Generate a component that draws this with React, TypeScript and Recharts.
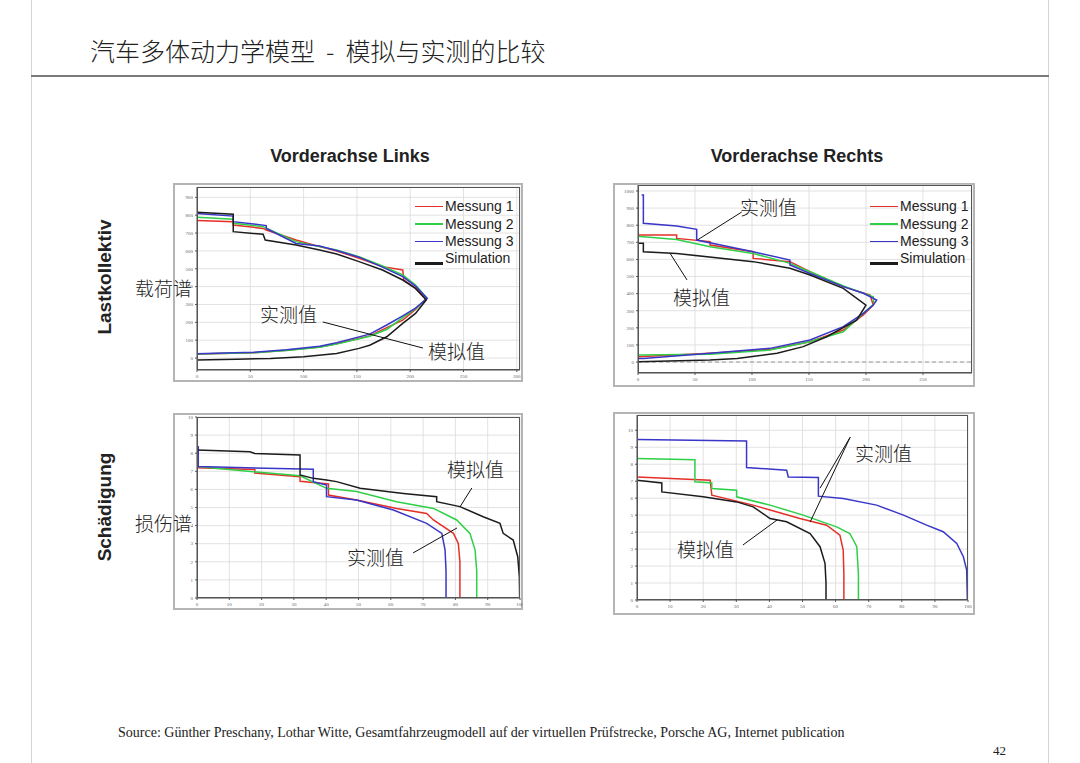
import { LineChart, Line, XAxis, YAxis, CartesianGrid, ReferenceLine } from 'recharts';

type Pt = [number, number];

const seriesNames = ['Messung 1', 'Messung 2', 'Messung 3', 'Simulation'];
const seriesColors = ['#e5302a', '#2fcf48', '#3a36c8', '#1c1c1c'];

// Lastkollektiv, Vorderachse Links (x: Häufigkeit, y: Niveau)
const tlM1: Pt[] = [[0, 770], [34, 763], [34, 745], [62, 726], [65, 717], [93, 661], [115, 624], [131, 600], [152, 559], [174, 512], [193, 493], [194, 437], [205, 390], [215, 334], [205, 272], [193, 212], [178, 170], [162, 124], [131, 80], [115, 62], [84, 43], [53, 30], [0, 22]];
const tlM2: Pt[] = [[0, 789], [34, 778], [34, 755], [62, 736], [93, 652], [115, 624], [131, 605], [152, 568], [174, 516], [193, 465], [205, 409], [216, 334], [205, 276], [193, 226], [178, 160], [162, 122], [131, 78], [115, 60], [84, 42], [53, 30], [0, 22]];
const tlM3: Pt[] = [[0, 810], [34, 795], [34, 764], [65, 742], [65, 726], [93, 642], [115, 628], [131, 602], [152, 565], [174, 509], [193, 456], [205, 403], [216, 334], [205, 280], [193, 236], [178, 185], [162, 134], [131, 86], [115, 66], [84, 46], [53, 32], [0, 24]];
const tlSim: Pt[] = [[0, 816], [34, 805], [34, 708], [62, 693], [64, 661], [93, 633], [115, 605], [131, 583], [152, 540], [174, 493], [193, 437], [205, 390], [215, 325], [205, 250], [193, 194], [178, 119], [162, 72], [152, 54], [131, 26], [100, 7], [69, -2], [37, -7], [0, -11]];

// Lastkollektiv, Vorderachse Rechts
const trM1: Pt[] = [[0, 743], [33.9, 743], [33.9, 723], [63.2, 704], [63.2, 684], [101, 645], [101, 606], [133.3, 587], [150.9, 528], [180.1, 441], [203.5, 392], [206.4, 333], [197.7, 275], [180.1, 187], [150.9, 119], [115.8, 74], [63.2, 51], [0, 31]];
const trM2: Pt[] = [[0, 735], [4.7, 733], [33.9, 717], [63.2, 674], [101, 635], [133.3, 577], [150.9, 528], [180.1, 445], [206.4, 382], [207, 340], [197.7, 285], [180.1, 177], [150.9, 119], [115.8, 70], [63.2, 45], [0, 41]];
const trM3: Pt[] = [[3.2, 977], [4.7, 977], [4.7, 811], [33.9, 795], [51.5, 776], [51.5, 713], [101, 645], [133.3, 596], [133.3, 567], [150.9, 518], [180.1, 441], [197.7, 402], [209.4, 363], [206.4, 333], [197.7, 285], [180.1, 207], [150.9, 129], [115.8, 80], [63.2, 51], [4.7, 21], [0, 21]];
const trSim: Pt[] = [[0, 694], [4.7, 694], [4.7, 645], [33.9, 635], [101, 587], [133.3, 548], [150.9, 509], [180.1, 431], [200, 333], [191.8, 245], [165.5, 148], [145, 90], [122, 51], [87, 21], [63.2, 12], [0, 2]];

// Schädigung, Vorderachse Links (x: Schädigungsanteil %)
const blM1: Pt[] = [[0, 7.2], [17.9, 7.1], [17.9, 6.9], [31.9, 6.7], [31.9, 6.45], [40.7, 6.3], [40.7, 5.69], [49.4, 5.41], [61.8, 4.95], [71.1, 4.67], [73.2, 4.31], [79.4, 3.57], [80.9, 3.02], [81.4, 2.0], [81.4, 0]];
const blM2: Pt[] = [[0, 7.26], [31.9, 6.75], [40.1, 6.06], [49.4, 5.88], [61.8, 5.32], [73.2, 4.95], [80.4, 4.31], [84.5, 3.57], [86.1, 2.65], [86.6, 1.5], [86.6, 0]];
const blM3: Pt[] = [[0, 8.36], [0.4, 8.36], [0.4, 7.26], [36, 7.11], [36, 6.43], [40.1, 6.24], [40.1, 5.6], [49.4, 5.41], [60.8, 4.86], [71.1, 4.12], [75.8, 3.57], [76.8, 2.65], [77.1, 1.5], [77.1, 0]];
const blSim: Pt[] = [[0, 8.18], [16.4, 8.08], [17.9, 7.99], [31.9, 7.9], [31.9, 6.8], [36, 6.61], [40.1, 6.52], [43.2, 6.43], [50.5, 6.06], [63.9, 5.78], [74.2, 5.6], [74.2, 5.32], [81.4, 5.05], [88.6, 4.49], [93.8, 4.12], [94.8, 3.57], [97.9, 3.2], [99.3, 2.28], [99.8, 1.18], [99.9, 0]];

// Schädigung, Vorderachse Rechts
const brM1: Pt[] = [[0, 7.25], [22.1, 7.06], [22.6, 6.18], [35.1, 5.59], [49.2, 4.8], [57.3, 4.41], [61.3, 3.82], [62.3, 2.94], [62.5, 1.5], [62.5, 0]];
const brM2: Pt[] = [[0, 8.33], [17.5, 8.27], [17.5, 6.96], [22.6, 6.9], [22.6, 6.57], [30.1, 6.47], [30.1, 6.08], [40.2, 5.59], [50.2, 5.0], [60.3, 4.31], [64.3, 3.92], [66.4, 3.14], [66.9, 1.5], [66.9, 0]];
const brM3: Pt[] = [[0, 9.45], [33.1, 9.37], [33.1, 7.8], [45.2, 7.65], [45.7, 7.25], [54.8, 7.22], [54.8, 6.12], [62.3, 5.98], [72.4, 5.59], [80.5, 5.0], [87.5, 4.41], [92.5, 4.02], [96.6, 3.33], [98.6, 2.55], [99.6, 1.76], [99.8, 0]];
const brSim: Pt[] = [[0, 7.06], [7.5, 6.9], [7.5, 6.37], [20, 6.08], [30.1, 5.78], [35.1, 5.49], [40.2, 4.8], [45.2, 4.61], [52.3, 3.92], [55.3, 3.14], [56.8, 2.16], [57.1, 1.0], [57.1, 0]];

// axis ticks
const loadLeftXTicks = [0, 50, 100, 150, 200, 250, 300];
const loadRightXTicks = [0, 50, 100, 150, 200, 250];
const loadYTicks = [0, 100, 200, 300, 400, 500, 600, 700, 800, 900];
const loadRightYTicks = [0, 100, 200, 300, 400, 500, 600, 700, 800, 900, 1000];
const damageXTicks = [0, 10, 20, 30, 40, 50, 60, 70, 80, 90, 100];
const damageYTicks = [0, 1, 2, 3, 4, 5, 6, 7, 8, 9, 10];

// callout lines (data coords of each panel)
const tlNotes: Pt[][] = [[[118, 202], [212, 56]]];
const trNotes: Pt[][] = [[[91, 877], [52, 713]], [[43, 480], [28, 637]]];
const blNotes: Pt[][] = [[[85.1, 6.08], [81.4, 5.03]], [[66.9, 2.49], [80.5, 3.87]]];
const brNotes: Pt[][] = [[[64.4, 9.59], [55.3, 6.59]], [[64.4, 9.59], [52.3, 4.59]], [[32.0, 3.24], [42.3, 4.71]]];

const toRows = (pts: Pt[]) => pts.map(([x, y]) => ({ x, y }));

const sans = '"Liberation Sans", Arial, sans-serif';
const cjk = '"Noto Sans CJK SC", sans-serif';

type PanelProps = {
    left: number; top: number; width: number; height: number;
    margin: { top: number; right: number; bottom: number; left: number };
    yWidth: number; xHeight: number;
    xDomain: [number, number]; xTicks: number[];
    yDomain: [number, number]; yTicks: number[];
    series: Pt[][]; notes: Pt[][]; zeroLine?: boolean;
};

const Panel = (p: PanelProps) => {
    const plotLeft = p.margin.left + p.yWidth;
    const plotW = p.width - plotLeft - p.margin.right;
    const plotH = p.height - p.margin.top - p.margin.bottom - p.xHeight;
    return (
        <div style={{ position: 'absolute', left: p.left, top: p.top, width: p.width, height: p.height, background: '#fff', boxShadow: 'inset 0 0 0 2px #b4b4b4' }}>
            <LineChart width={p.width} height={p.height} margin={p.margin}>
                <CartesianGrid stroke="#dadada" strokeWidth={0.8} />
                <XAxis type="number" dataKey="x" domain={p.xDomain} ticks={p.xTicks} interval={0} allowDataOverflow
                    height={p.xHeight} tickSize={2} tick={{ fontSize: 5, fill: '#666' }} stroke="#555" />
                <YAxis type="number" domain={p.yDomain} ticks={p.yTicks} interval={0} allowDataOverflow
                    width={p.yWidth} tickSize={2} tick={{ fontSize: 5, fill: '#666' }} stroke="#555" />
                {p.zeroLine && <ReferenceLine y={0} stroke="#9a9a9a" strokeDasharray="4 3" />}
                {p.series.map((pts, i) => (
                    <Line key={seriesNames[i]} name={seriesNames[i]} data={toRows(pts)} dataKey="y" type="linear"
                        stroke={seriesColors[i]} strokeWidth={1.5} dot={false} isAnimationActive={false} />
                ))}
                {p.notes.map((seg, i) => (
                    <ReferenceLine key={i} segment={[{ x: seg[0][0], y: seg[0][1] }, { x: seg[1][0], y: seg[1][1] }]}
                        stroke="#111" strokeWidth={1} ifOverflow="visible" />
                ))}
            </LineChart>
            <div style={{ position: 'absolute', left: plotLeft, top: p.margin.top, width: plotW, height: plotH, border: '1px solid #555', boxSizing: 'border-box', pointerEvents: 'none' }} />
        </div>
    );
};

const SeriesKey = ({ left, top }: { left: number; top: number }) => (
    <div style={{ position: 'absolute', left, top, fontFamily: sans, fontSize: 14, color: '#222' }}>
        {seriesNames.map((n, i) => (
            <div key={n} style={{ display: 'flex', alignItems: 'center', height: 17.4, lineHeight: '17px' }}>
                <span style={{ display: 'inline-block', width: 28, height: i === 3 ? 2.5 : 1.5, background: seriesColors[i], marginRight: 2, marginTop: i === 3 ? 9 : 0 }} />
                <span>{n}</span>
            </div>
        ))}
    </div>
);

const Note = ({ text, left, cy, size = 19 }: { text: string; left: number; cy: number; size?: number }) => (
    <div style={{ position: 'absolute', left, top: cy, transform: 'translateY(-50%)', fontFamily: cjk, fontSize: size, fontWeight: 300, lineHeight: 1, color: '#222', whiteSpace: 'nowrap' }}>{text}</div>
);

const RowLabel = ({ text, cx, cy }: { text: string; cx: number; cy: number }) => (
    <div style={{ position: 'absolute', left: cx, top: cy, transform: 'translate(-50%, -50%) rotate(-90deg)', fontFamily: sans, fontWeight: 700, fontSize: 19, color: '#222', whiteSpace: 'nowrap', lineHeight: 1 }}>{text}</div>
);

const ColTitle = ({ text, cx }: { text: string; cx: number }) => (
    <div style={{ position: 'absolute', left: cx, top: 156, transform: 'translate(-50%, -50%)', fontFamily: sans, fontWeight: 700, fontSize: 18, color: '#222', whiteSpace: 'nowrap', lineHeight: 1 }}>{text}</div>
);

export default function App() {
    return (
        <div style={{ position: 'absolute', left: 0, top: 0, width: 1080, height: 763, background: '#fff', overflow: 'hidden' }}>
            <div style={{ position: 'absolute', left: 31, top: 0, width: 1, height: 763, background: '#d4d4d4' }} />
            <div style={{ position: 'absolute', left: 1048, top: 0, width: 1, height: 763, background: '#d4d4d4' }} />
            <div style={{ position: 'absolute', left: 31, top: 75, width: 1018, height: 2, background: '#7a7a7a' }} />
            <div style={{ position: 'absolute', left: 90, top: 50, transform: 'translateY(-50%)', fontFamily: cjk, fontSize: 25, fontWeight: 300, lineHeight: 1, color: '#222', whiteSpace: 'pre' }}>
                {'汽车多体动力学模型  -  模拟与实测的比较'}
            </div>

            <ColTitle text="Vorderachse Links" cx={350} />
            <ColTitle text="Vorderachse Rechts" cx={797} />
            <RowLabel text="Lastkollektiv" cx={104} cy={277} />
            <RowLabel text="Schädigung" cx={104} cy={507} />

            <Panel left={173} top={183} width={350} height={199}
                margin={{ top: 4, right: 3, bottom: 2, left: 2 }} yWidth={22} xHeight={10}
                xDomain={[0, 303]} xTicks={loadLeftXTicks} yDomain={[-67, 958]} yTicks={loadYTicks}
                series={[tlM1, tlM2, tlM3, tlSim]} notes={tlNotes} />
            <Panel left={613} top={183} width={362} height={204}
                margin={{ top: 2, right: 3, bottom: 2, left: 2 }} yWidth={23} xHeight={12}
                xDomain={[0, 293]} xTicks={loadRightXTicks} yDomain={[-64, 1035]} yTicks={loadRightYTicks}
                series={[trM1, trM2, trM3, trSim]} notes={trNotes} zeroLine />
            <Panel left={173} top={413} width={350} height={197}
                margin={{ top: 4, right: 3, bottom: 2, left: 2 }} yWidth={22} xHeight={10}
                xDomain={[0, 100]} xTicks={damageXTicks} yDomain={[0, 10]} yTicks={damageYTicks}
                series={[blM1, blM2, blM3, blSim]} notes={blNotes} />
            <Panel left={613} top={412} width={362} height={203}
                margin={{ top: 3, right: 7, bottom: 3, left: 2 }} yWidth={22} xHeight={12}
                xDomain={[0, 100]} xTicks={damageXTicks} yDomain={[0, 10.9]} yTicks={damageYTicks}
                series={[brM1, brM2, brM3, brSim]} notes={brNotes} />

            <SeriesKey left={415} top={198} />
            <SeriesKey left={870} top={198} />

            <Note text="载荷谱" left={135} cy={287} />
            <Note text="实测值" left={260} cy={313} />
            <Note text="模拟值" left={428} cy={350} />
            <Note text="实测值" left={740} cy={206} />
            <Note text="模拟值" left={673} cy={296} />
            <Note text="损伤谱" left={135} cy={522} />
            <Note text="模拟值" left={447} cy={468} />
            <Note text="实测值" left={347} cy={556} />
            <Note text="实测值" left={855} cy={452} />
            <Note text="模拟值" left={677} cy={548} />

            <div style={{ position: 'absolute', left: 118, top: 726, fontFamily: '"Liberation Serif", serif', fontSize: 14, color: '#222', whiteSpace: 'nowrap', lineHeight: 1 }}>
                Source: Günther Preschany, Lothar Witte, Gesamtfahrzeugmodell auf der virtuellen Prüfstrecke, Porsche AG, Internet publication
            </div>
            <div style={{ position: 'absolute', left: 993, top: 744, fontFamily: '"Liberation Serif", serif', fontSize: 13, color: '#222', lineHeight: 1 }}>42</div>
        </div>
    );
}
